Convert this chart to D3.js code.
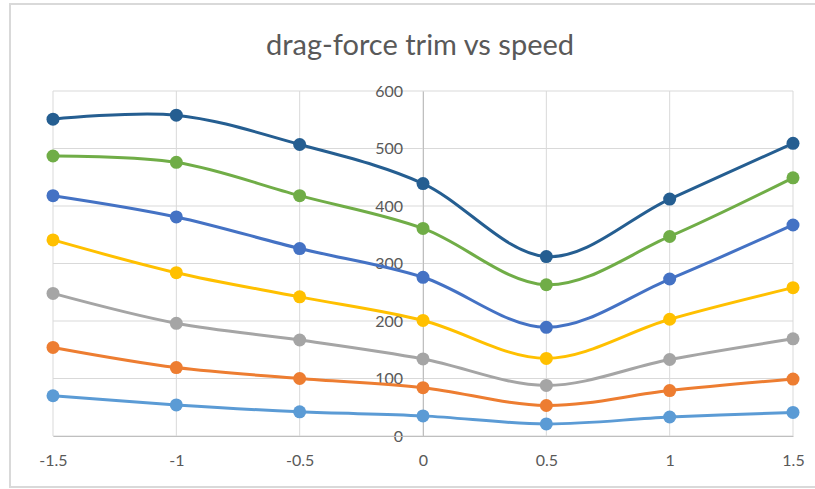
<!DOCTYPE html>
<html lang="en">
<head>
    <meta charset="UTF-8">
    <script src="https://d3js.org/d3.v7.min.js"></script>
    <title>drag-force trim vs speed</title>
    <style>
        body { margin: 0; background: #fff; }
        text { font-family: Lato, "Open Sans", sans-serif; fill: #595959; }
    </style>
</head>
<body>
    <svg id="chart" width="815" height="489"></svg>
    <script>
        var width = 815, height = 489;

        var speeds = [-1.5, -1, -0.5, 0, 0.5, 1, 1.5];
        var yTicks = [0, 100, 200, 300, 400, 500, 600];
        var xTicks = [-1.5, -1, -0.5, 0, 0.5, 1, 1.5];

        // one list per trim curve, bottom to top
        var s1 = [70, 54, 42, 35, 21, 33, 41];
        var s2 = [154, 119, 100, 84, 53, 79, 99];
        var s3 = [248, 196, 167, 134, 88, 133, 169];
        var s4 = [341, 284, 242, 201, 135, 203, 258];
        var s5 = [418, 381, 326, 276, 189, 273, 367];
        var s6 = [487, 476, 418, 361, 263, 347, 449];
        var s7 = [551, 558, 507, 439, 312, 412, 509];

        var seriesList = [s1, s2, s3, s4, s5, s6, s7];
        var colors = ['#5B9BD5', '#ED7D31', '#A5A5A5', '#FFC000', '#4472C4', '#70AD47', '#255E91'];

        var svg = d3.select('#chart');

        // outer frame
        svg.append('rect')
            .attr('x', 10).attr('y', 4)
            .attr('width', 820).attr('height', 483)
            .attr('fill', 'none')
            .attr('stroke', '#d9d9d9')
            .attr('stroke-width', 2);

        svg.append('text')
            .attr('x', 420).attr('y', 55)
            .attr('text-anchor', 'middle')
            .style('font-size', '29px')
            .text('drag-force trim vs speed');

        var x = d3.scaleLinear().domain([-1.5, 1.5]).range([53, 793]);
        var y = d3.scaleLinear().domain([0, 600]).range([436, 91]);

        var grid = svg.append('g');
        grid.selectAll('line.h')
            .data(yTicks)
            .join('line')
            .attr('class', 'h')
            .attr('x1', x(-1.5)).attr('x2', x(1.5))
            .attr('y1', function(d) { return y(d); })
            .attr('y2', function(d) { return y(d); })
            .attr('stroke', '#d9d9d9');
        grid.selectAll('line.v')
            .data(xTicks)
            .join('line')
            .attr('class', 'v')
            .attr('y1', y(0)).attr('y2', y(600))
            .attr('x1', function(d) { return x(d); })
            .attr('x2', function(d) { return x(d); })
            .attr('stroke', '#d9d9d9');

        // y axis sits at x = 0
        var yAxis = svg.append('g')
            .attr('transform', 'translate(' + x(0) + ',0)')
            .call(d3.axisLeft(y).tickValues(yTicks).tickSize(0).tickPadding(20));
        yAxis.select('.domain').attr('stroke', '#bfbfbf');
        yAxis.selectAll('text').style('font-size', '16px').attr('fill', '#595959');

        var xAxis = svg.append('g')
            .attr('transform', 'translate(0,' + y(0) + ')')
            .call(d3.axisBottom(x).tickValues(xTicks).tickSize(0).tickPadding(19)
                .tickFormat(function(d) { return String(d); }));
        xAxis.select('.domain').attr('stroke', '#bfbfbf');
        xAxis.selectAll('text').style('font-size', '16px').attr('fill', '#595959');

        var line = d3.line()
            .x(function(d, i) { return x(speeds[i]); })
            .y(function(d) { return y(d); })
            .curve(d3.curveCatmullRom.alpha(0));

        var groups = svg.append('g').selectAll('g')
            .data(seriesList)
            .join('g');

        groups.append('path')
            .attr('d', function(d) { return line(d); })
            .attr('fill', 'none')
            .attr('stroke', function(d, i) { return colors[i]; })
            .attr('stroke-width', 3);

        groups.each(function(d, i) {
            d3.select(this).selectAll('circle')
                .data(d)
                .join('circle')
                .attr('cx', function(v, j) { return x(speeds[j]); })
                .attr('cy', function(v) { return y(v); })
                .attr('r', 6.5)
                .attr('fill', colors[i]);
        });
    </script>
</body>
</html>
